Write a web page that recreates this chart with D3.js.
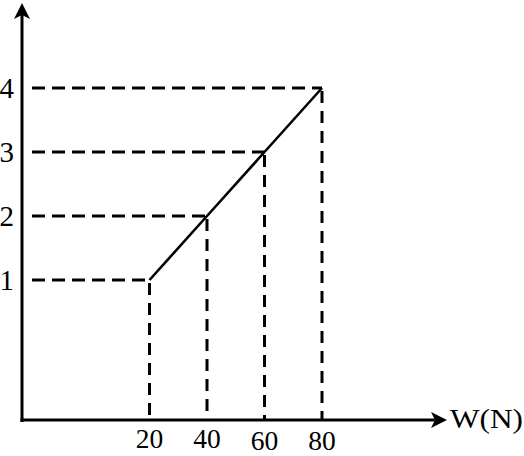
<!DOCTYPE html>
<html>
<head>
<meta charset="utf-8">
<script src="https://cdn.jsdelivr.net/npm/d3@7"></script>
<style>
  body { margin: 0; background: #fff; }
  text { font-family: "Liberation Serif", "DejaVu Serif", serif; fill: #000; }
</style>
</head>
<body>
<svg width="524" height="456"></svg>
<script>
//chart data
let weights = [20, 40, 60, 80];      // W(N)
let readings = [1, 2, 3, 4];         // y values
let xTickLabels = ["20", "40", "60", "80"];
let yTickLabels = ["1", "2", "3", "4"];
let xAxisTitle = "W(N)";

let svg = d3.select("svg");

//origin of the axes
let originX = 22, originY = 420;

//scales
let x = d3.scaleLinear().domain([20, 80]).range([149.5, 322]);
let y = d3.scaleLinear().domain([1, 4]).range([280, 88]);

let points = weights.map((w, i) => ({ w: w, r: readings[i] }));

//dashed guide lines
let guides = svg.append("g")
    .attr("stroke", "#000")
    .attr("stroke-width", 3)
    .attr("fill", "none");

guides.selectAll(".hguide")
    .data(points)
    .enter().append("line")
    .attr("class", "hguide")
    .attr("x1", 32)
    .attr("x2", (d) => x(d.w))
    .attr("y1", (d) => y(d.r))
    .attr("y2", (d) => y(d.r))
    .attr("stroke-dasharray", "13,7");

guides.selectAll(".vguide")
    .data(points)
    .enter().append("line")
    .attr("class", "vguide")
    .attr("x1", (d) => x(d.w))
    .attr("x2", (d) => x(d.w))
    .attr("y1", (d) => y(d.r))
    .attr("y2", originY)
    .attr("stroke-dasharray", "12,8")
    .attr("stroke-dashoffset", -3);

//the solid line
let line = d3.line()
    .x((d) => x(d.w))
    .y((d) => y(d.r));

svg.append("path")
    .datum(points)
    .attr("d", line)
    .attr("fill", "none")
    .attr("stroke", "#000")
    .attr("stroke-width", 2.6);

//axes with arrow heads
svg.append("line")
    .attr("x1", originX).attr("y1", originY + 2)
    .attr("x2", originX).attr("y2", 10)
    .attr("stroke", "#000").attr("stroke-width", 3);

svg.append("line")
    .attr("x1", originX - 1.5).attr("y1", originY)
    .attr("x2", 438).attr("y2", originY)
    .attr("stroke", "#000").attr("stroke-width", 3);

svg.append("path")
    .attr("d", "M" + originX + ",3 L" + (originX + 8) + ",19 L" + originX + ",15 L" + (originX - 8) + ",19 Z")
    .attr("fill", "#000");

svg.append("path")
    .attr("d", "M447," + originY + " L431," + (originY - 8) + " L435," + originY + " L431," + (originY + 8) + " Z")
    .attr("fill", "#000");

//tick labels
svg.selectAll(".xlabel")
    .data(weights)
    .enter().append("text")
    .attr("class", "xlabel")
    .attr("x", (d) => x(d))
    .attr("y", (d, i) => i < 2 ? 448 : 450)
    .attr("text-anchor", "middle")
    .attr("font-size", 27.5)
    .text((d, i) => xTickLabels[i]);

svg.selectAll(".ylabel")
    .data(readings)
    .enter().append("text")
    .attr("class", "ylabel")
    .attr("x", 14)
    .attr("y", (d) => y(d) + 10)
    .attr("text-anchor", "end")
    .attr("font-size", 29)
    .text((d, i) => yTickLabels[i]);

svg.append("text")
    .attr("x", 450)
    .attr("y", 428)
    .attr("font-size", 27)
    .attr("textLength", 73)
    .attr("lengthAdjust", "spacingAndGlyphs")
    .text(xAxisTitle);
</script>
</body>
</html>
